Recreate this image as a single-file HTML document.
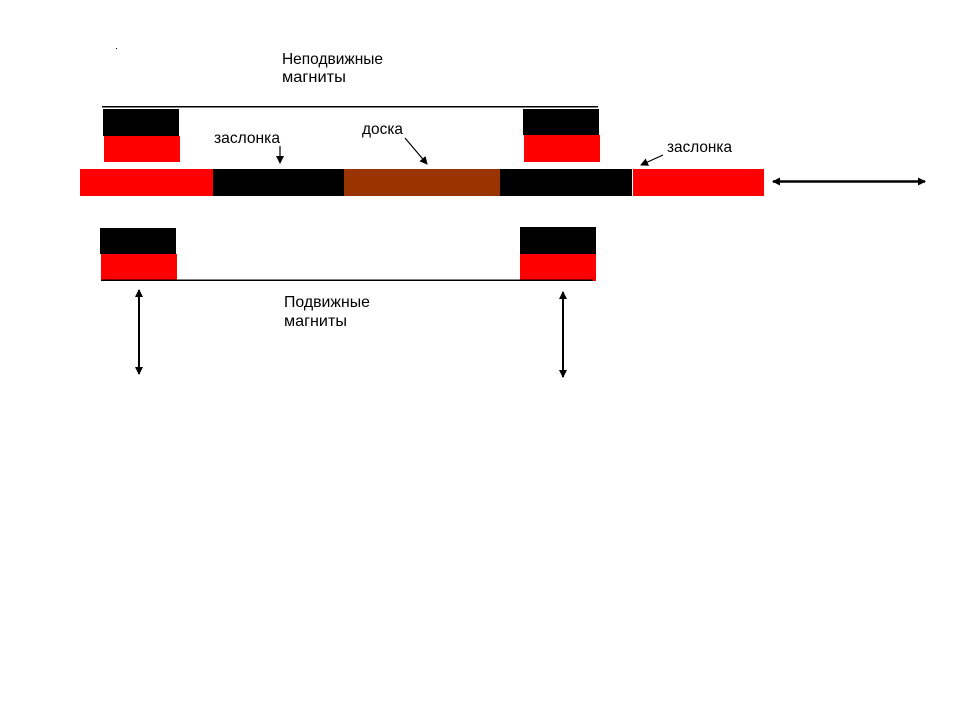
<!DOCTYPE html>
<html>
<head>
<meta charset="utf-8">
<style>
html,body{margin:0;padding:0;background:#fff;}
svg{display:block;}
text{font-family:"Liberation Sans","DejaVu Sans",sans-serif;font-size:16px;fill:#000;}
</style>
</head>
<body>
<svg width="960" height="720" viewBox="0 0 960 720" xmlns="http://www.w3.org/2000/svg">
<defs>
<marker id="ah" markerWidth="8" markerHeight="8" refX="7" refY="4" orient="auto" markerUnits="userSpaceOnUse">
<path d="M0,0 L8,4 L0,8 z" fill="#000"/>
</marker>
<marker id="ahs" markerWidth="8" markerHeight="8" refX="1" refY="4" orient="auto" markerUnits="userSpaceOnUse">
<path d="M8,0 L0,4 L8,8 z" fill="#000"/>
</marker>
</defs>
<rect x="0" y="0" width="960" height="720" fill="#fff"/>
<!-- dot -->
<rect x="116" y="48" width="1" height="1" fill="#000"/>

<!-- top label -->
<text x="282" y="64" textLength="101" lengthAdjust="spacingAndGlyphs">Неподвижные</text>
<text x="282" y="82" textLength="64" lengthAdjust="spacingAndGlyphs">магниты</text>

<!-- top line -->
<rect x="102" y="106" width="496" height="1.5" fill="#000"/>

<!-- top magnets -->
<rect x="103" y="109" width="76" height="27" fill="#000"/>
<rect x="104" y="136" width="76" height="26" fill="#f00"/>
<rect x="523" y="109" width="76" height="26" fill="#000"/>
<rect x="524" y="135" width="76" height="27" fill="#f00"/>

<!-- labels -->
<text x="214" y="143" textLength="66" lengthAdjust="spacingAndGlyphs">заслонка</text>
<text x="362" y="134" textLength="41" lengthAdjust="spacingAndGlyphs">доска</text>
<text x="667" y="152" textLength="65" lengthAdjust="spacingAndGlyphs">заслонка</text>

<!-- arrows to bar -->
<line x1="280" y1="146" x2="280" y2="163" stroke="#000" stroke-width="1.2" marker-end="url(#ah)"/>
<line x1="405" y1="138" x2="427" y2="164" stroke="#000" stroke-width="1.2" marker-end="url(#ah)"/>
<line x1="663" y1="155" x2="641" y2="165" stroke="#000" stroke-width="1.2" marker-end="url(#ah)"/>

<!-- bar -->
<rect x="80" y="169" width="133" height="27" fill="#f00"/>
<rect x="213" y="169" width="131" height="27" fill="#000"/>
<rect x="344" y="169" width="156" height="27" fill="#993300"/>
<rect x="500" y="169" width="132" height="27" fill="#000"/>
<rect x="633" y="169" width="131" height="27" fill="#f00"/>

<!-- horizontal double arrow -->
<line x1="773" y1="181.5" x2="925" y2="181.5" stroke="#000" stroke-width="2.5" marker-start="url(#ahs)" marker-end="url(#ah)"/>

<!-- bottom magnets -->
<rect x="100" y="228" width="76" height="26" fill="#000"/>
<rect x="101" y="254" width="76" height="26" fill="#f00"/>
<rect x="520" y="227" width="76" height="27" fill="#000"/>
<rect x="520" y="254" width="76" height="27" fill="#f00"/>

<!-- bottom line -->
<rect x="101" y="279.5" width="492" height="1.5" fill="#000"/>

<!-- bottom label -->
<text x="284" y="307" textLength="86" lengthAdjust="spacingAndGlyphs">Подвижные</text>
<text x="284" y="326" textLength="63" lengthAdjust="spacingAndGlyphs">магниты</text>

<!-- vertical double arrows -->
<line x1="139" y1="290" x2="139" y2="374" stroke="#000" stroke-width="2" marker-start="url(#ahs)" marker-end="url(#ah)"/>
<line x1="563" y1="292" x2="563" y2="377" stroke="#000" stroke-width="2" marker-start="url(#ahs)" marker-end="url(#ah)"/>
</svg>
</body>
</html>
